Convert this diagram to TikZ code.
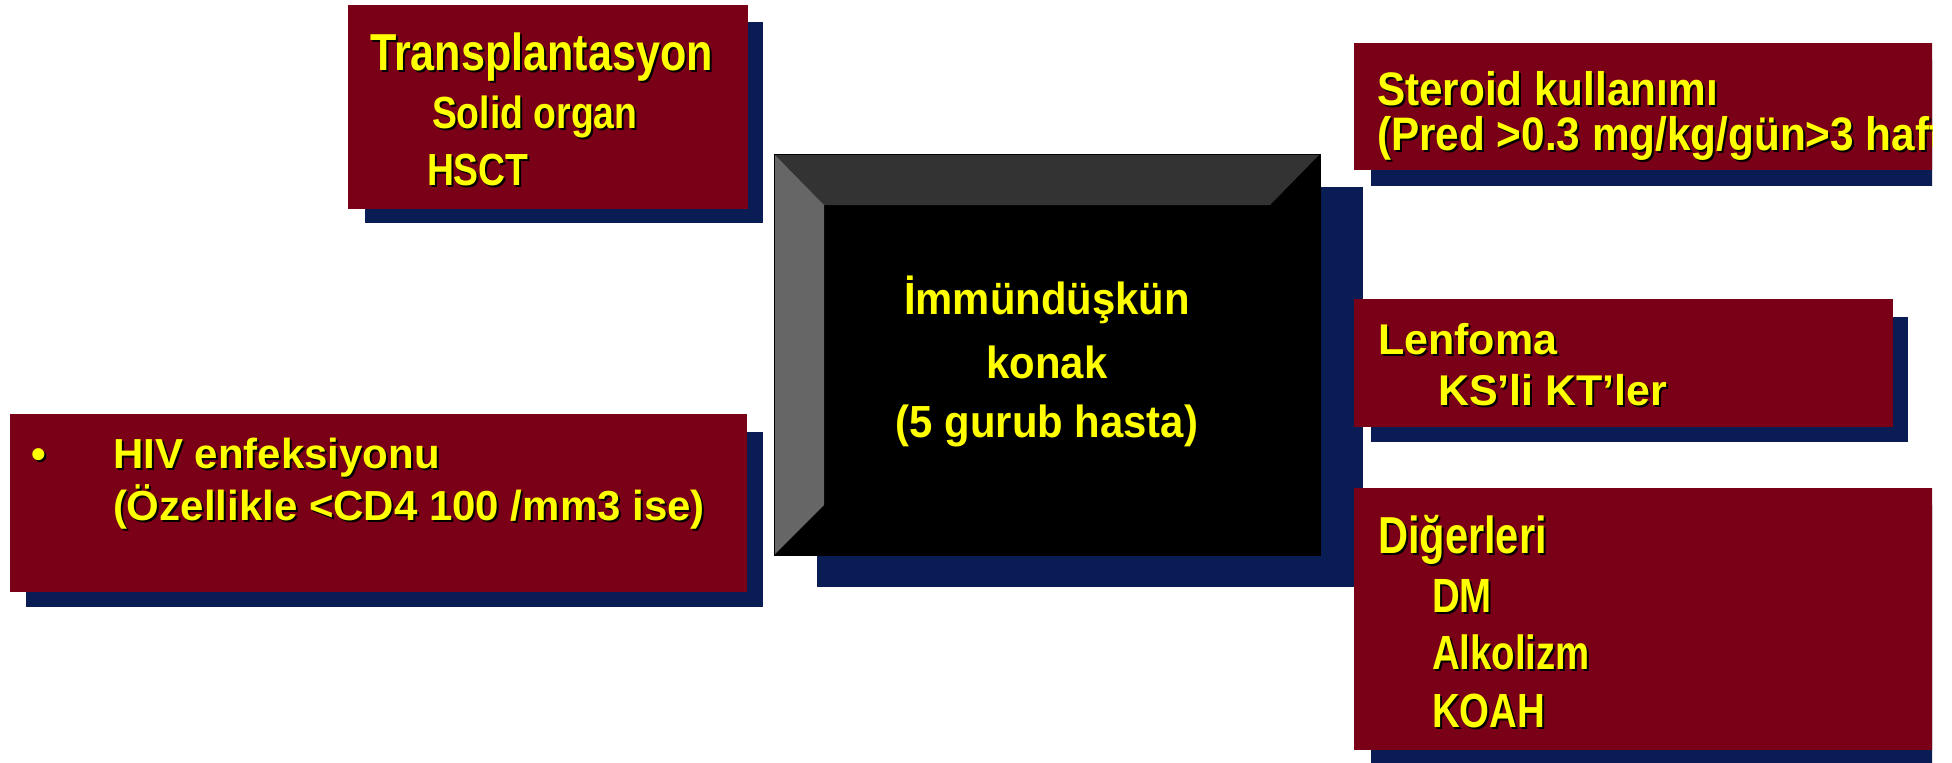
\documentclass[tikz,border=0pt]{standalone}
\usepackage{fontspec}
\setmainfont{Liberation Sans}
\newfontfamily\fN{Liberation Sans}
\newfontfamily\fC{Liberation Sans}[FakeStretch=0.93]
\newfontfamily\fT{Liberation Sans}[FakeStretch=0.83]
\newfontfamily\fS{Liberation Sans}[FakeStretch=0.9]
\newfontfamily\fD{Liberation Sans}[FakeStretch=0.8]
\definecolor{boxred}{RGB}{122,0,24}
\definecolor{navyshadow}{RGB}{10,28,84}
\definecolor{bevtop}{RGB}{51,51,51}
\definecolor{bevleft}{RGB}{102,102,102}
\definecolor{txtyellow}{RGB}{255,255,0}
\tikzset{
  redbox/.style={fill=boxred},
  shadowbox/.style={fill=navyshadow},
  txt/.style={inner sep=0pt, outer sep=0pt},
}
% #1 name, #2 anchor, #3 position, #4 font, #5 text
\newcommand\shtxt[5]{%
  \node[txt, anchor=#2, text=black, font=#4, xshift=2pt, yshift=-2pt] (#1s) at (#3) {#5};
  \node[txt, anchor=#2, text=txtyellow, font=#4] (#1) at (#3) {#5};}
\begin{document}
\begin{tikzpicture}[x=1pt,y=-1pt]
\useasboundingbox (0,0) rectangle (1952,763);
\fill[white] (0,0) rectangle (1952,763);

% ---------- Transplantasyon box ----------
\fill[shadowbox] (365,22) rectangle (763,223);
\fill[redbox] (348,5) rectangle (748,209);
\shtxt{tr1}{base west}{370,70}{\fT\bfseries\fontsize{52}{52}\selectfont}{Transplantasyon}
\shtxt{tr2}{base west}{432,128}{\fT\bfseries\fontsize{45}{45}\selectfont}{Solid organ}
\shtxt{tr3}{base west}{427,185}{\fT\bfseries\fontsize{45}{45}\selectfont}{HSCT}

% ---------- HIV box ----------
\fill[shadowbox] (26,432) rectangle (763,607);
\fill[redbox] (10,414) rectangle (747,592);
\shtxt{hb}{base west}{31,468}{\fN\bfseries\fontsize{42}{42}\selectfont}{•}
\shtxt{hv1}{base west}{113,468}{\fN\bfseries\fontsize{42}{42}\selectfont}{HIV enfeksiyonu}
\shtxt{hv2}{base west}{113,520}{\fN\bfseries\fontsize{42}{42}\selectfont}{(Özellikle <CD4 100 /mm3 ise)}

% ---------- Central bevelled box ----------
\fill[shadowbox] (817,187) rectangle (1363,587);
\fill[black] (774,154) rectangle (1320,555);
\fill[bevtop] (774,154) -- (1320,154) -- (1270,205) -- (824,205) -- cycle;
\fill[bevleft] (774,154) -- (824,205) -- (824,505) -- (774,555) -- cycle;
\draw[black, line width=1pt] (774,154) rectangle (1320,555);
\shtxt{c1}{base}{1047,314}{\fC\bfseries\fontsize{45}{45}\selectfont}{İmmündüşkün}
\shtxt{c2}{base}{1047,378}{\fC\bfseries\fontsize{45}{45}\selectfont}{konak}
\shtxt{c3}{base}{1047,437}{\fC\bfseries\fontsize{45}{45}\selectfont}{(5 gurub hasta)}

% ---------- Right boxes (clipped at slide edge) ----------
\begin{scope}
\clip (0,0) rectangle (1932,763);
% Steroid
\fill[shadowbox] (1371,60) rectangle (1950,186);
\fill[redbox] (1354,43) rectangle (1950,170);
\shtxt{s1}{base west}{1377,105}{\fS\bfseries\fontsize{47}{47}\selectfont}{Steroid kullanımı}
\shtxt{s2}{base west}{1377,150}{\fS\bfseries\fontsize{47}{47}\selectfont}{(Pred >0.3 mg/kg/gün>3 hafta)}
% Lenfoma
\fill[shadowbox] (1371,317) rectangle (1908,442);
\fill[redbox] (1354,299) rectangle (1893,427);
\shtxt{l1}{base west}{1378,354}{\fN\bfseries\fontsize{43}{43}\selectfont}{Lenfoma}
\shtxt{l2}{base west}{1438,405}{\fN\bfseries\fontsize{43}{43}\selectfont}{KS’li KT’ler}
% Digerleri
\fill[shadowbox] (1371,505) rectangle (1950,770);
\fill[redbox] (1354,488) rectangle (1950,750);
\shtxt{d1}{base west}{1378,553}{\fD\bfseries\fontsize{52}{52}\selectfont}{Diğerleri}
\shtxt{d2}{base west}{1432,612}{\fD\bfseries\fontsize{48}{48}\selectfont}{DM}
\shtxt{d3}{base west}{1432,669}{\fD\bfseries\fontsize{48}{48}\selectfont}{Alkolizm}
\shtxt{d4}{base west}{1432,727}{\fD\bfseries\fontsize{48}{48}\selectfont}{KOAH}
\end{scope}
\end{tikzpicture}
\end{document}
